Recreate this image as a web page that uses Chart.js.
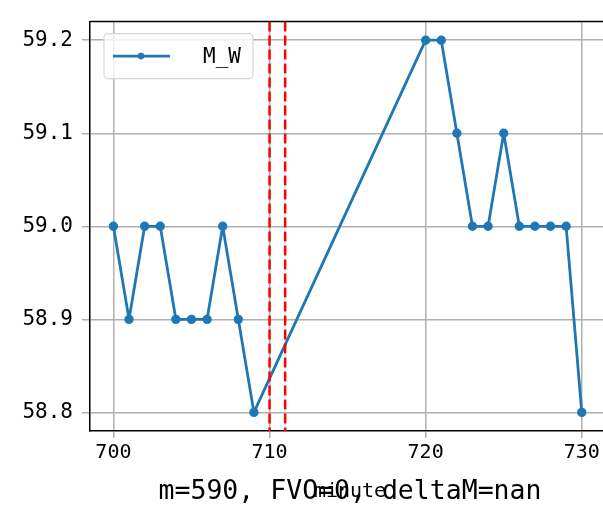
<!DOCTYPE html>
<html>
<head>
<meta charset="utf-8">
<script src="https://cdn.jsdelivr.net/npm/chart.js@4"></script>
<style>
  html, body { margin: 0; padding: 0; background: #fff; overflow: hidden; }
  #wrap { width: 603px; height: 507px; overflow: hidden; }
</style>
</head>
<body>
<div id="wrap"><canvas id="c" width="640" height="507"></canvas></div>
<script>
// minute values and the M_W series
const minutes = [700, 701, 702, 703, 704, 705, 706, 707, 708, 709,
                 720, 721, 722, 723, 724, 725, 726, 727, 728, 729, 730];
const mwValues = [59.0, 58.9, 59.0, 59.0, 58.9, 58.9, 58.9, 59.0, 58.9, 58.8,
                  59.2, 59.2, 59.1, 59.0, 59.0, 59.1, 59.0, 59.0, 59.0, 59.0, 58.8];
const markerLines = [710, 711];
const xTicks = [700, 710, 720, 730];
const yTicks = [58.8, 58.9, 59.0, 59.1, 59.2];
const caption = 'm=590, FVO=0, deltaM=nan';
const xTitle = 'minute';

const FONT = '"DejaVu Sans Mono", "Liberation Mono", monospace';
const BLUE = '#1f77b4';
const GRID = '#b0b0b0';

// grey only for the listed ticks
const gridColor = list => c => (c.tick && list.includes(c.tick.value)) ? GRID : 'rgba(0,0,0,0)';

// red dashed verticals, top spine, legend box and the bottom texts
const extras = {
  id: 'extras',
  afterDatasetsDraw(chart) {
    const ctx = chart.ctx;
    const area = chart.chartArea;
    const xs = chart.scales.x;
    ctx.save();
    ctx.strokeStyle = '#ff0000';
    ctx.lineWidth = 2.5;
    ctx.setLineDash([10, 4]);
    markerLines.forEach(v => {
      const px = xs.getPixelForValue(v);
      ctx.beginPath();
      ctx.moveTo(px, area.top);
      ctx.lineTo(px, area.bottom);
      ctx.stroke();
    });
    ctx.setLineDash([]);
    ctx.strokeStyle = '#000';
    ctx.lineWidth = 1.5;
    ctx.beginPath();
    ctx.moveTo(area.left, area.top);
    ctx.lineTo(area.right, area.top);
    ctx.stroke();
    ctx.restore();

    // legend
    ctx.save();
    const lx = area.left + 14, ly = area.top + 12, lw = 149, lh = 45;
    ctx.fillStyle = 'rgba(255,255,255,0.8)';
    ctx.strokeStyle = '#d6d6d6';
    ctx.lineWidth = 1.2;
    ctx.beginPath();
    ctx.roundRect(lx, ly, lw, lh, 4);
    ctx.fill();
    ctx.stroke();
    const my = ly + lh / 2;
    ctx.strokeStyle = BLUE;
    ctx.lineWidth = 2.8;
    ctx.beginPath();
    ctx.moveTo(lx + 9, my);
    ctx.lineTo(lx + 66, my);
    ctx.stroke();
    ctx.fillStyle = BLUE;
    ctx.beginPath();
    ctx.arc(lx + 37, my, 3.3, 0, Math.PI * 2);
    ctx.fill();
    ctx.fillStyle = '#000';
    ctx.font = '21px ' + FONT;
    ctx.textBaseline = 'middle';
    ctx.textAlign = 'left';
    ctx.fillText(chart.data.datasets[0].label, lx + 99, my + 1);
    ctx.restore();
  },
  afterDraw(chart) {
    const ctx = chart.ctx;
    const area = chart.chartArea;
    ctx.save();
    ctx.fillStyle = '#000';
    ctx.textAlign = 'center';
    ctx.textBaseline = 'alphabetic';
    ctx.font = '20px ' + FONT;
    ctx.fillText(xTitle, 350, area.bottom + 66);
    ctx.font = '26.5px ' + FONT;
    ctx.fillText(caption, 350, area.bottom + 68);
    ctx.restore();
  }
};

new Chart(document.getElementById('c'), {
  type: 'line',
  data: {
    datasets: [{
      label: 'M_W',
      data: minutes.map((m, i) => ({ x: m, y: mwValues[i] })),
      borderColor: BLUE,
      backgroundColor: BLUE,
      borderWidth: 2.8,
      borderJoinStyle: 'round',
      pointRadius: 3.3,
      pointHoverRadius: 3.3,
      tension: 0
    }]
  },
  options: {
    responsive: false,
    animation: false,
    layout: { padding: { top: 10, right: 20, left: 0, bottom: 0 } },
    plugins: { legend: { display: false }, tooltip: { enabled: false } },
    scales: {
      x: {
        type: 'linear',
        min: 698.5,
        max: 732.45,
        afterBuildTicks: s => { s.ticks = xTicks.map(v => ({ value: v })); },
        afterFit: s => { s.height = 76; },
        ticks: { color: '#000', font: { size: 20, family: FONT }, padding: 3, maxRotation: 0 },
        grid: { color: gridColor(xTicks), lineWidth: 1.5, tickLength: 7 },
        border: { color: '#000', width: 1.5 }
      },
      y: {
        min: 58.78,
        max: 59.22,
        afterBuildTicks: s => { s.ticks = yTicks.map(v => ({ value: v })); },
        afterFit: s => { s.width = 90; },
        ticks: {
          color: '#000', font: { size: 21, family: FONT }, padding: 9,
          callback: v => v.toFixed(1)
        },
        grid: { color: gridColor(yTicks), lineWidth: 1.5, tickLength: 8 },
        border: { color: '#000', width: 1.5 }
      }
    }
  },
  plugins: [extras]
});
</script>
</body>
</html>
